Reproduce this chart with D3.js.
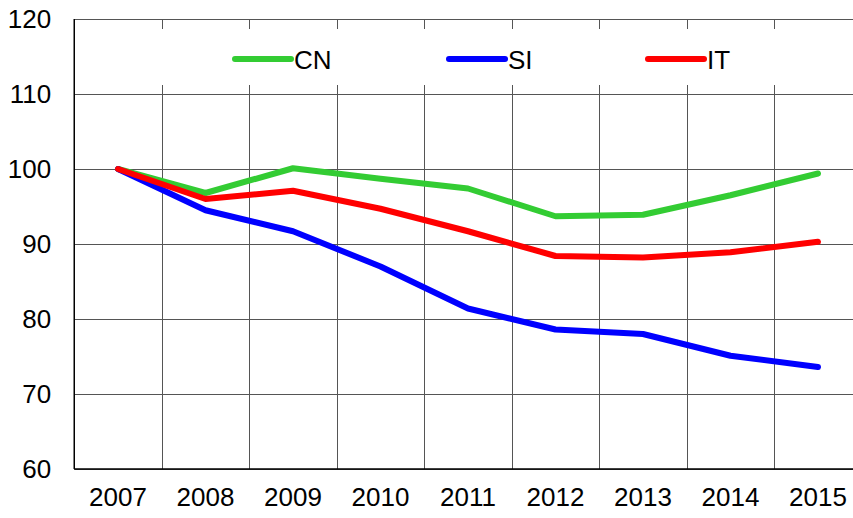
<!DOCTYPE html>
<html><head><meta charset="utf-8">
<script src="https://cdn.jsdelivr.net/npm/d3@7"></script>
<style>body{margin:0;background:#fff}svg{display:block}text{font-family:"Liberation Sans",Arial,sans-serif;fill:#000}</style>
</head><body><svg id="c" width="853" height="518"></svg>
<script>
const years = ["2007","2008","2009","2010","2011","2012","2013","2014","2015"];
const cn = [100, 96.8, 100.1, 98.7, 97.4, 93.7, 93.9, 96.5, 99.4];
const si = [100, 94.5, 91.7, 87.0, 81.4, 78.6, 78.0, 75.1, 73.6];
const it = [100, 96.0, 97.1, 94.7, 91.7, 88.4, 88.2, 88.9, 90.3];
const yTicks = [60, 70, 80, 90, 100, 110, 120];
const seriesNames = ["CN", "SI", "IT"];
const seriesColors = ["#33cc33", "#0000ff", "#ff0000"];

const series = [cn, si, it].map((v, i) => ({name: seriesNames[i], color: seriesColors[i], values: v}));
const svg = d3.select("#c");
const L = 74.25, R = 861.75, T = 19, B = 469;
const FS = 26;
const x = d3.scaleBand().domain(years).range([L, R]).padding(0);
const y = d3.scaleLinear().domain([60, 120]).range([B, T]);

// horizontal grid
svg.append("g").selectAll("line").data(yTicks).join("line")
  .attr("x1", L).attr("x2", R).attr("y1", d => Math.round(y(d)) + 0.5).attr("y2", d => Math.round(y(d)) + 0.5)
  .attr("stroke", "#555").attr("stroke-width", 1);
// vertical grid (band boundaries)
const vb = years.slice(1).map(d => x(d));
svg.append("g").selectAll("line").data(vb).join("line")
  .attr("x1", d => Math.round(d) + 0.5).attr("x2", d => Math.round(d) + 0.5).attr("y1", T).attr("y2", B)
  .attr("stroke", "#555").attr("stroke-width", 1);

// legend background
svg.append("rect").attr("x", 140).attr("y", 29).attr("width", 660).attr("height", 56).attr("fill", "#fff");

// axes lines
svg.append("line").attr("x1", L).attr("x2", L).attr("y1", T).attr("y2", B).attr("stroke", "#000").attr("stroke-width", 1.5);
svg.append("line").attr("x1", L).attr("x2", R).attr("y1", B).attr("y2", B).attr("stroke", "#000").attr("stroke-width", 1.5);

// y labels
const yAxis = d3.axisLeft(y).tickValues(yTicks).tickSize(0).tickPadding(23);
const gy = svg.append("g").attr("transform", `translate(${L},0)`).call(yAxis);
gy.select(".domain").remove();
gy.selectAll("text").attr("font-size", FS).attr("font-family", '"Liberation Sans",Arial,sans-serif').attr("fill", "#000");

// x labels
const xAxis = d3.axisBottom(x).tickSize(0).tickPadding(19);
const gx = svg.append("g").attr("transform", `translate(0,${B})`).call(xAxis);
gx.select(".domain").remove();
gx.selectAll("text").attr("font-size", FS).attr("font-family", '"Liberation Sans",Arial,sans-serif').attr("fill", "#000");

// lines
const line = d3.line().x((d, i) => x(years[i]) + x.bandwidth() / 2).y(d => y(d));
svg.append("g").selectAll("path").data(series).join("path")
  .attr("d", s => line(s.values)).attr("fill", "none").attr("stroke", s => s.color)
  .attr("stroke-width", 6).attr("stroke-linejoin", "round").attr("stroke-linecap", "round");

// legend
const legX = [235, 449, 648];
const lg = svg.append("g").selectAll("g").data(series).join("g")
  .attr("transform", (s, i) => `translate(${legX[i]},59)`);
lg.append("line").attr("x1", 0).attr("x2", 56).attr("y1", 0).attr("y2", 0)
  .attr("stroke", s => s.color).attr("stroke-width", 6).attr("stroke-linecap", "round");
lg.append("text").attr("x", 59).attr("y", 9.5).attr("font-size", FS).text(s => s.name);
</script></body></html>
